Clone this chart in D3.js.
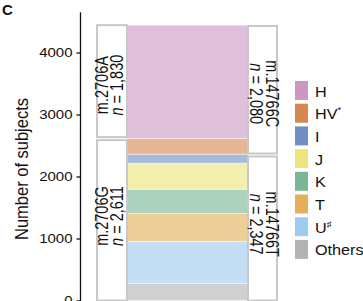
<!DOCTYPE html>
<html>
<head>
<meta charset="utf-8">
<script src="https://cdn.jsdelivr.net/npm/d3@7"></script>
<style>
  body { margin: 0; background: #fff; }
  text { font-family: "Liberation Sans", Arial, sans-serif; fill: #111; }
</style>
</head>
<body>
<div id="screen"></div>
<script>
var width = 363;
var height = 301;

// haplogroups, from top of the stack to the bottom
var groups = ["H", "HV", "I", "J", "K", "T", "U", "Others"];
var counts = [1830, 250, 146, 420, 390, 450, 680, 275];
var legendColors = ["#cc97c3", "#d6884f", "#6f90c6", "#ece67a", "#78b796", "#e2b05a", "#9ecaef", "#b3b3b3"];
var legendSup = ["", "*", "", "", "", "", "\u266F", ""];

// allele boxes
var leftAlleles = ["m.2706A", "m.2706G"];
var leftN = ["1,830", "2,611"];
var leftCounts = [1830, 2611];
var rightAlleles = ["m.14766C", "m.14766T"];
var rightN = ["2,080", "2,347"];
var rightCounts = [2080, 2347];

var yTicks = [0, 1000, 2000, 3000, 4000];

var svg = d3.select("#screen").append("svg")
  .attr("width", width).attr("height", height);

var y = d3.scaleLinear().domain([0, 4000]).range([300.5, 52.5]);

// panel letter
svg.append("text").attr("x", 2).attr("y", 15)
  .attr("font-size", 15).attr("font-weight", "bold").text("C");

// y axis
var yAxis = d3.axisLeft(y).tickValues(yTicks).tickSize(4).tickSizeOuter(0).tickFormat(d3.format("d"));
var yAxisSpr = svg.append("g").attr("transform", "translate(80.5,0)").call(yAxis);
yAxisSpr.select(".domain").attr("d", "M0," + y(4650) + "V" + height).attr("stroke", "#111").attr("stroke-width", 1.3);
yAxisSpr.selectAll(".tick line").attr("stroke", "#111").attr("stroke-width", 1.3);
yAxisSpr.selectAll(".tick text")
  .attr("font-size", 12.5)
  .attr("x", -8 / 1.2)
  .attr("transform", "scale(1.2,1)")
  .attr("fill", "#111")
  .style("font-family", "Liberation Sans, Arial, sans-serif");

svg.append("text")
  .attr("transform", "translate(28,169) rotate(-90) scale(1,1.15)")
  .attr("text-anchor", "middle")
  .attr("font-size", 16.5)
  .text("Number of subjects");

// stacked bar
var barX = 127, barW = 121;
var stackData = [];
var cum = 0;
for (var i = groups.length - 1; i >= 0; i--) {
  stackData.push({ g: groups[i], lo: cum, hi: cum + counts[i], c: legendColors[i] });
  cum += counts[i];
}
svg.selectAll("rect.seg").data(stackData).enter().append("rect")
  .attr("class", "seg")
  .attr("x", barX)
  .attr("width", barW)
  .attr("y", function(d){ return y(d.hi); })
  .attr("height", function(d){ return y(d.lo) - y(d.hi); })
  .attr("fill", function(d){ return d.c; })
  .attr("fill-opacity", 0.62)
  .attr("stroke", "#fff")
  .attr("stroke-opacity", 0.6)
  .attr("stroke-width", 0.8);

// allele boxes
var makeBoxes = function(x0, w, alleles, ns, cnts, side){
  var bottom = cnts[1];
  var boxes = [
    { lo: bottom, hi: bottom + cnts[0], a: alleles[0], n: ns[0] },
    { lo: 0, hi: bottom, a: alleles[1], n: ns[1] }
  ];
  if (side === "left") boxes[0].hi = cum; // top box reaches the top of the stack
  boxes.forEach(function(b, k){
    var top = y(b.hi) + (k === 1 ? 1.5 : 0);
    var bot = y(b.lo) - (k === 0 ? 1.5 : 0);
    svg.append("rect")
      .attr("x", x0).attr("y", top)
      .attr("width", w).attr("height", Math.max(0, bot - top))
      .attr("fill", "#fff").attr("stroke", "#c8c8c8").attr("stroke-width", 2);
    var cy = k === 0 ? (top + bot) / 2 + 4 : (top + 300) / 2 - 4;
    var t1, t2;
    if (side === "left") {
      t1 = svg.append("text").attr("transform", "translate(" + (x0 + 11) + "," + cy + ") rotate(-90) scale(1,1.25)");
      t2 = svg.append("text").attr("transform", "translate(" + (x0 + 25.5) + "," + cy + ") rotate(-90) scale(1,1.25)");
    } else {
      t1 = svg.append("text").attr("transform", "translate(" + (x0 + 17.5) + "," + cy + ") rotate(90) scale(1,1.25)");
      t2 = svg.append("text").attr("transform", "translate(" + (x0 + 2) + "," + cy + ") rotate(90) scale(1,1.25)");
    }
    t1.attr("text-anchor", "middle").attr("font-size", 14.5).text(b.a);
    t2.attr("text-anchor", "middle").attr("font-size", 14.5);
    t2.append("tspan").attr("font-style", "italic").text("n");
    t2.append("tspan").text(" = " + b.n);
  });
};
makeBoxes(97, 30, leftAlleles, leftN, leftCounts, "left");
makeBoxes(248, 29, rightAlleles, rightN, rightCounts, "right");

// legend
var legend = svg.selectAll("g.legend").data(groups).enter().append("g")
  .attr("class", "legend")
  .attr("transform", function(d, i){ return "translate(295," + (81 + i * 22.7) + ")"; });
legend.append("rect")
  .attr("width", 13).attr("height", 19)
  .attr("fill", function(d, i){ return legendColors[i]; });
var lt = legend.append("text")
  .attr("transform", "translate(20,15.5) scale(1.08,1)")
  .attr("font-size", 15);
lt.append("tspan").text(function(d){ return d; });
lt.append("tspan")
  .attr("font-size", 8.5)
  .attr("dy", -6)
  .text(function(d, i){ return legendSup[i]; });
</script>
</body>
</html>
